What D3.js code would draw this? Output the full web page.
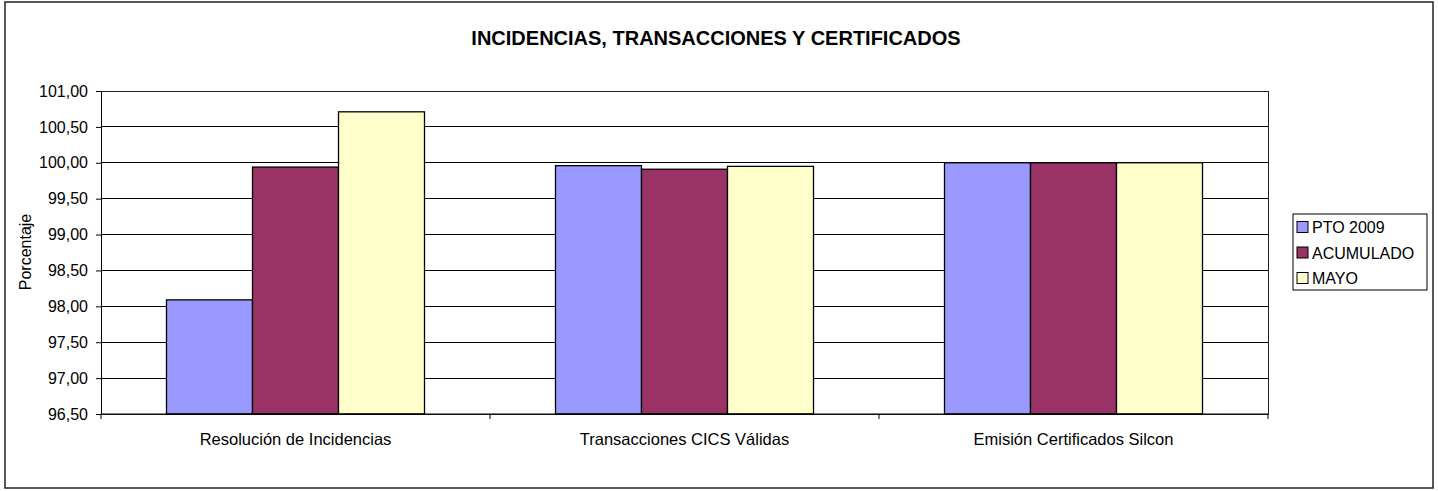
<!DOCTYPE html>
<html><head><meta charset="utf-8">
<script src="https://cdn.jsdelivr.net/npm/d3@7"></script>
<style>body{margin:0;background:#fff}svg{display:block;font-family:"Liberation Sans",Arial,sans-serif}</style>
</head><body><svg id="c" width="1438" height="491"></svg>
<script>
const categories = ["Resolución de Incidencias", "Transacciones CICS Válidas", "Emisión Certificados Silcon"];
const seriesNames = ["PTO 2009", "ACUMULADO", "MAYO"];
const pto2009 = [98.09, 99.96, 100.00];
const acumulado = [99.94, 99.91, 100.00];
const mayo = [100.71, 99.95, 100.00];
const yTicks = [96.5, 97, 97.5, 98, 98.5, 99, 99.5, 100, 100.5, 101];
const colors = ["#9999FF", "#993366", "#FFFFCC"];
const seriesValues = [pto2009, acumulado, mayo];

const svg = d3.select("#c");
// outer frame
svg.append("rect").attr("x", 5).attr("y", 2).attr("width", 1428).attr("height", 486)
  .attr("fill", "#fff").attr("stroke", "#222").attr("stroke-width", 1.5);

const L = 101, R = 1268, T = 91, B = 414;
const x0 = d3.scaleBand().domain(categories).range([L, R]).paddingInner(0).paddingOuter(0);
const y = d3.scaleLinear().domain([96.5, 101]).range([B, T]);
const inner = 258;
const x1 = d3.scaleBand().domain(seriesNames).range([0, inner]);

svg.append("text").attr("x", 716).attr("y", 45).attr("text-anchor", "middle")
  .attr("font-weight", "bold").attr("font-size", 20).text("INCIDENCIAS, TRANSACCIONES Y CERTIFICADOS");

// gridlines
svg.append("g").selectAll("line").data(yTicks).join("line")
  .attr("x1", L).attr("x2", R).attr("y1", d => y(d)).attr("y2", d => y(d))
  .attr("stroke", "#000").attr("stroke-width", 1).attr("shape-rendering", "crispEdges");

// plot border
svg.append("rect").attr("x", L).attr("y", T).attr("width", R - L).attr("height", B - T)
  .attr("fill", "none").attr("stroke", "#222").attr("stroke-width", 1).attr("shape-rendering", "crispEdges");

// bars
const g = svg.append("g");
categories.forEach((c, ci) => {
  const start = x0(c) + (x0.bandwidth() - inner) / 2;
  seriesNames.forEach((s, si) => {
    const v = seriesValues[si][ci];
    g.append("rect").attr("x", start + x1(s)).attr("y", y(v))
      .attr("width", x1.bandwidth()).attr("height", y(96.5) - y(v))
      .attr("fill", colors[si]).attr("stroke", "#000").attr("stroke-width", 1.3);
  });
});

// y axis
const ya = d3.axisLeft(y).tickValues(yTicks).tickSize(5).tickPadding(8)
  .tickFormat(d => d3.format(".2f")(d).replace(".", ","));
const yg = svg.append("g").attr("transform", `translate(${L},0)`).call(ya);
yg.select(".domain").attr("stroke", "#000");
yg.selectAll("text").attr("font-size", 16).attr("fill", "#000").attr("font-family", "Liberation Sans, Arial");
yg.selectAll("line").attr("stroke", "#000");

// x axis
const xa = svg.append("g").attr("transform", `translate(0,${B})`);
xa.append("line").attr("x1", L).attr("x2", R).attr("y1", 0).attr("y2", 0).attr("stroke", "#000");
const edges = categories.map(c => x0(c)).concat([R]);
xa.selectAll("line.t").data(edges).join("line").attr("class", "t")
  .attr("x1", d => d).attr("x2", d => d).attr("y1", 0).attr("y2", 5).attr("stroke", "#000");
xa.selectAll("text").data(categories).join("text")
  .attr("x", d => x0(d) + x0.bandwidth() / 2).attr("y", 31).attr("text-anchor", "middle")
  .attr("font-size", 16.5).text(d => d);

// y label
svg.append("text").attr("transform", "translate(31,252) rotate(-90)").attr("text-anchor", "middle")
  .attr("font-size", 16).text("Porcentaje");

// legend
const lg = svg.append("g");
lg.append("rect").attr("x", 1293).attr("y", 214).attr("width", 134).attr("height", 76)
  .attr("fill", "#fff").attr("stroke", "#000").attr("stroke-width", 1);
seriesNames.forEach((s, i) => {
  const yy = 227 + i * 25.5;
  lg.append("rect").attr("x", 1297).attr("y", yy - 5.5).attr("width", 11).attr("height", 11)
    .attr("fill", colors[i]).attr("stroke", "#000");
  lg.append("text").attr("x", 1312).attr("y", yy + 6).attr("font-size", 16).text(s);
});
</script></body></html>
